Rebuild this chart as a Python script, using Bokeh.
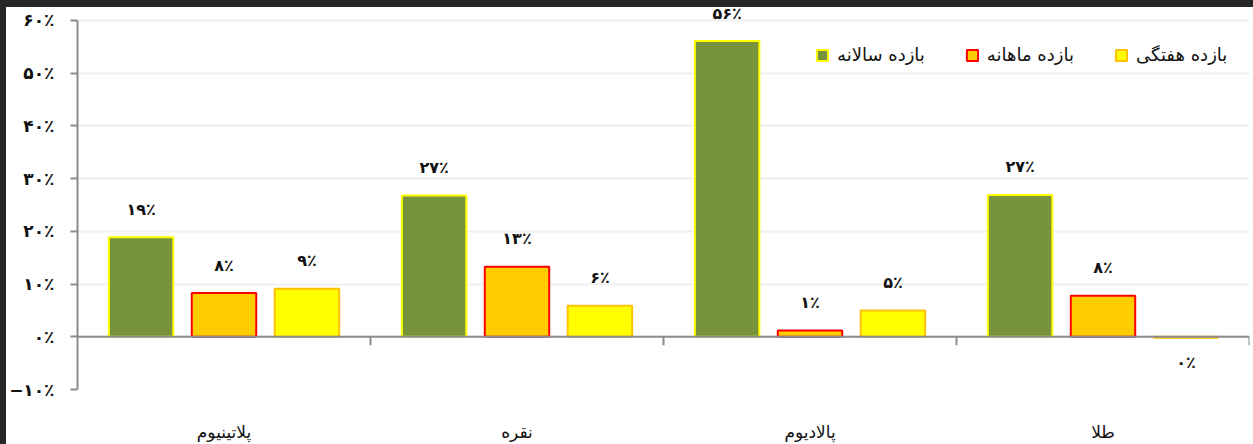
from bokeh.plotting import figure
from bokeh.models import (ColumnDataSource, FactorRange, Range1d, FixedTicker,
                          LabelSet, Span, Legend, LegendItem)
from bokeh.transform import dodge
from bokeh.core.properties import value
from bokeh.embed import file_html
from bokeh.resources import INLINE

# ---- data ----
categories = ["پلاتینیوم", "نقره", "پالادیوم", "طلا"]
yearly = [18.9, 26.8, 56.1, 26.9]
monthly = [8.3, 13.3, 1.2, 7.8]
weekly = [9.1, 5.9, 5.0, -0.2]
series_names = ["بازده سالانه", "بازده ماهانه", "بازده هفتگی"]
y_ticks = [-10, 0, 10, 20, 30, 40, 50, 60]
y_tick_labels = ["−۱۰٪", "۰٪", "۱۰٪", "۲۰٪", "۳۰٪", "۴۰٪", "۵۰٪", "۶۰٪"]

FA = str.maketrans("0123456789", "۰۱۲۳۴۵۶۷۸۹")


def fa_pct(v):
    return str(abs(int(round(v)))).translate(FA) + "٪"


FONT = "DejaVu Sans"
styles = [
    dict(fill_color="#77933C", line_color="#FFFF00"),
    dict(fill_color="#FFCC00", line_color="#FF0000"),
    dict(fill_color="#FFFF00", line_color="#FFC000"),
]
offsets = [-0.283, 0.0, 0.283]
series = [yearly, monthly, weekly]

p = figure(x_range=FactorRange(*categories, range_padding=0, factor_padding=0),
           y_range=Range1d(-10, 62.46),
           width=1253, height=444, output_backend="svg", toolbar_location=None,
           min_border_left=69, min_border_right=10, min_border_top=0,
           min_border_bottom=62)
p.styles = {"border-top": "7px solid #262626", "border-left": "6px solid #262626"}
p.outline_line_color = None
p.background_fill_color = "white"
p.border_fill_color = "white"

# grid
p.xgrid.grid_line_color = None
p.ygrid.ticker = FixedTicker(ticks=y_ticks)
p.ygrid.grid_line_color = "#EFEFEF"
p.ygrid.grid_line_width = 2

items = []
for name, vals, off, st in zip(series_names, series, offsets, styles):
    src = ColumnDataSource(dict(
        cat=categories, v=vals,
        lbl=[fa_pct(v) for v in vals],
        yoff=[28 if v >= 0 else -25 for v in vals],
    ))
    r = p.vbar(x=dodge("cat", off, range=p.x_range), top="v", bottom=0,
               width=0.22, source=src, line_width=2, **st)
    items.append(LegendItem(label=name, renderers=[r]))
    labels = LabelSet(x=dodge("cat", off, range=p.x_range), y="v", text="lbl",
                      y_offset="yoff", source=src, text_align="center",
                      text_baseline="middle", text_font=value(FONT),
                      text_font_style="bold", text_font_size="16px",
                      text_color="#111111")
    p.add_layout(labels)

# zero line acting as category axis
p.add_layout(Span(location=0, dimension="width", line_color="#8C8C8C",
                  line_width=2))
bx = list(range(1, len(categories) + 1))
p.segment(x0=bx, y0=[0] * len(bx), x1=bx, y1=[-1.6] * len(bx),
          line_color="#8C8C8C", line_width=2)

# y axis
p.yaxis.ticker = FixedTicker(ticks=y_ticks)
p.yaxis.major_label_overrides = dict(zip(y_ticks, y_tick_labels))
p.yaxis.bounds = (-10, 60)
p.yaxis.axis_line_color = "#8C8C8C"
p.yaxis.axis_line_width = 2
p.yaxis.major_tick_line_color = "#8C8C8C"
p.yaxis.major_tick_line_width = 2
p.yaxis.major_tick_out = 7
p.yaxis.major_tick_in = 0
p.yaxis.minor_tick_line_color = None
p.yaxis.major_label_standoff = 16
p.yaxis.major_label_text_font = FONT
p.yaxis.major_label_text_font_style = "bold"
p.yaxis.major_label_text_font_size = "17px"
p.yaxis.major_label_text_color = "#111111"

# x axis (labels only)
p.xaxis.axis_line_color = None
p.xaxis.major_tick_line_color = None
p.xaxis.minor_tick_line_color = None
p.xaxis.major_label_standoff = 26
p.xaxis.major_label_text_font = FONT
p.xaxis.major_label_text_font_size = "17px"
p.xaxis.major_label_text_color = "#111111"

legend = Legend(items=items, orientation="horizontal", location=(738, 324),
                glyph_width=14, glyph_height=14, label_standoff=8, spacing=40,
                padding=5, margin=0, border_line_color=None,
                background_fill_alpha=0, label_text_font=FONT,
                label_text_font_size="18px", label_text_color="#111111")
p.add_layout(legend)

open("out.html", "w").write(file_html(p, INLINE))
